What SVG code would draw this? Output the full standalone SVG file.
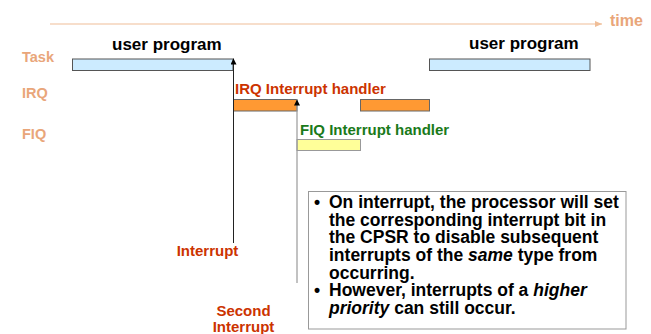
<svg xmlns="http://www.w3.org/2000/svg" width="651" height="334" viewBox="0 0 651 334">
<defs>
<style>
text{font-family:"Liberation Sans",Arial,sans-serif;font-weight:bold}
.lbl{font-size:14.5px;fill:#E9A67A}
.hdr{font-size:17px;fill:#000}
.red{font-size:15px;fill:#CC3300}
.grn{font-size:15px;fill:#1A7A1A}
.body{font-size:17.5px;fill:#000}
.task{fill:#CCEBFF;stroke:#555;stroke-width:1}
.irq{fill:#FF9933;stroke:#666;stroke-width:1}
.fiq{fill:#FFFF99;stroke:#999;stroke-width:1}
</style>
<marker id="ah" markerWidth="6" markerHeight="6" refX="6" refY="3" orient="auto" markerUnits="userSpaceOnUse">
<path d="M0,0 L6,3 L0,6 Z" fill="#000"/>
</marker>
<marker id="ta" markerWidth="7" markerHeight="6" refX="7" refY="3" orient="auto" markerUnits="userSpaceOnUse">
<path d="M0,0 L7,3 L0,6 Z" fill="#F0BE98"/>
</marker>
</defs>
<rect width="651" height="334" fill="#fff"/>

<g id="timeline">
<line x1="50" y1="24" x2="602" y2="24" stroke="#F0BE98" stroke-width="1.2" marker-end="url(#ta)"/>
<text x="610" y="26" style="font-size:16px;fill:#E9A67A">time</text>
</g>

<g id="row-labels">
<text class="lbl" x="22" y="62">Task</text>
<text class="lbl" x="22" y="98">IRQ</text>
<text class="lbl" x="22" y="139">FIQ</text>
</g>

<g id="task1">
<rect class="task" x="72.5" y="59" width="160.5" height="11.5"/>
<text class="hdr" x="112" y="50">user program</text>
</g>
<g id="task2">
<rect class="task" x="429.5" y="59" width="160.5" height="11.5"/>
<text class="hdr" x="469" y="49">user program</text>
</g>

<g id="irq1">
<rect class="irq" x="233.5" y="99.5" width="63.5" height="11.5"/>
<text class="red" x="235" y="94">IRQ Interrupt handler</text>
</g>
<g id="irq2">
<rect class="irq" x="360.5" y="99.5" width="69" height="11.5"/>
</g>

<g id="fiq">
<rect class="fiq" x="297" y="139.5" width="63.5" height="11"/>
<text class="grn" x="300" y="135">FIQ Interrupt handler</text>
</g>

<g id="connectors">
<line x1="233.5" y1="243" x2="233.5" y2="58.5" stroke="#222" stroke-width="1" marker-end="url(#ah)"/>
<line x1="297" y1="283" x2="297" y2="99.5" stroke="#999" stroke-width="1.2" marker-end="url(#ah)"/>
</g>

<g id="interrupt-label">
<text class="red" x="207.5" y="256" text-anchor="middle">Interrupt</text>
</g>
<g id="second-interrupt-label">
<text class="red" x="243.5" y="316" text-anchor="middle">Second</text>
<text class="red" x="243.5" y="332" text-anchor="middle">Interrupt</text>
</g>

<g id="note">
<rect x="308.5" y="191.5" width="317.5" height="137.5" fill="#fff" stroke="#999" stroke-width="1"/>
<text class="body" x="314" y="208">•</text>
<text class="body" x="329" y="208">On interrupt, the processor will set</text>
<text class="body" x="329" y="225.7">the corresponding interrupt bit in</text>
<text class="body" x="329" y="243.3">the CPSR to disable subsequent</text>
<text class="body" x="329" y="261">interrupts of the <tspan font-style="italic">same</tspan> type from</text>
<text class="body" x="329" y="278.7">occurring.</text>
<text class="body" x="314" y="296.3">•</text>
<text class="body" x="329" y="296.3">However, interrupts of a <tspan font-style="italic">higher</tspan></text>
<text class="body" x="329" y="314"><tspan font-style="italic">priority</tspan> can still occur.</text>
</g>
</svg>
